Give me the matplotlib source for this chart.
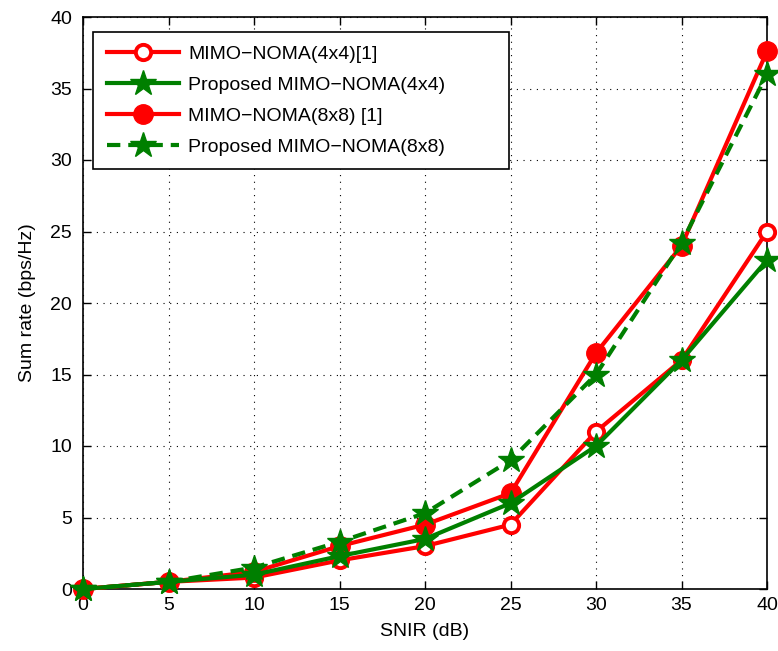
import matplotlib
matplotlib.use("Agg")
import matplotlib.pyplot as plt

snir = [0, 5, 10, 15, 20, 25, 30, 35, 40]
ref_4x4 = [0, 0.5, 0.8, 2.0, 3.0, 4.5, 11.0, 16.0, 25.0]
prop_4x4 = [0, 0.5, 1.0, 2.3, 3.5, 6.0, 10.0, 16.0, 23.0]
ref_8x8 = [0, 0.5, 1.2, 3.0, 4.5, 6.7, 16.5, 24.0, 37.6]
prop_8x8 = [0, 0.5, 1.5, 3.3, 5.3, 9.0, 15.0, 24.2, 36.0]

labels = ["MIMO\u2212NOMA(4x4)[1]", "Proposed MIMO\u2212NOMA(4x4)",
          "MIMO\u2212NOMA(8x8) [1]", "Proposed MIMO\u2212NOMA(8x8)"]
xticks = [0, 5, 10, 15, 20, 25, 30, 35, 40]
yticks = [0, 5, 10, 15, 20, 25, 30, 35, 40]

plt.rcParams['font.family'] = ['Liberation Sans', 'DejaVu Sans']

fig = plt.figure(figsize=(7.78, 6.51), dpi=100)
W, H = 684, 572
ax = fig.add_axes([83/778, 1-589/651, W/778, H/651])

red = '#ff0000'
green = '#007f00'
ax.plot(snir, ref_4x4, '-o', color=red, lw=3, ms=11, mfc='white', mec=red, mew=2.8, label=labels[0], zorder=3, clip_on=False)
ax.plot(snir, prop_4x4, '-*', color=green, lw=3, ms=19, mfc=green, mec=green, label=labels[1], zorder=4, clip_on=False)
ax.plot(snir, ref_8x8, '-o', color=red, lw=3, ms=14, mfc=red, mec=red, label=labels[2], zorder=3, clip_on=False)
ax.plot(snir, prop_8x8, '--*', color=green, lw=3, ms=19, mfc=green, mec=green, label=labels[3], zorder=4,
        dashes=(3.2, 1.9), clip_on=False)

ax.set_xlim(0, 40)
ax.set_ylim(0, 40)
ax.set_xticks(xticks)
ax.set_yticks(yticks)
ax.tick_params(direction='in', top=True, right=True, labelsize=14, length=6, width=1)
ax.tick_params(axis='x', pad=6)
ax.tick_params(axis='y', pad=8)
ax.grid(True, linestyle=(0, (1, 5)), color='black', linewidth=0.8)
for s in ax.spines.values():
    s.set_linewidth(1.2)
    s.set_zorder(2.5)
ax.set_xlabel('SNIR (dB)', fontsize=14, labelpad=6)
ax.set_ylabel('Sum rate (bps/Hz)', fontsize=14, labelpad=10)

leg = ax.legend(loc='upper left', bbox_to_anchor=(10/W, 1-15/H - 136/H, 416/W, 136/H), mode='expand',
                fontsize=14, frameon=True, fancybox=False,
                edgecolor='black', framealpha=1, borderaxespad=0,
                handlelength=3.7, handletextpad=0.5, labelspacing=0.68, borderpad=0.7)
leg.get_frame().set_linewidth(1.2)
leg.set_zorder(10)

fig.savefig('out.png', dpi=100)
